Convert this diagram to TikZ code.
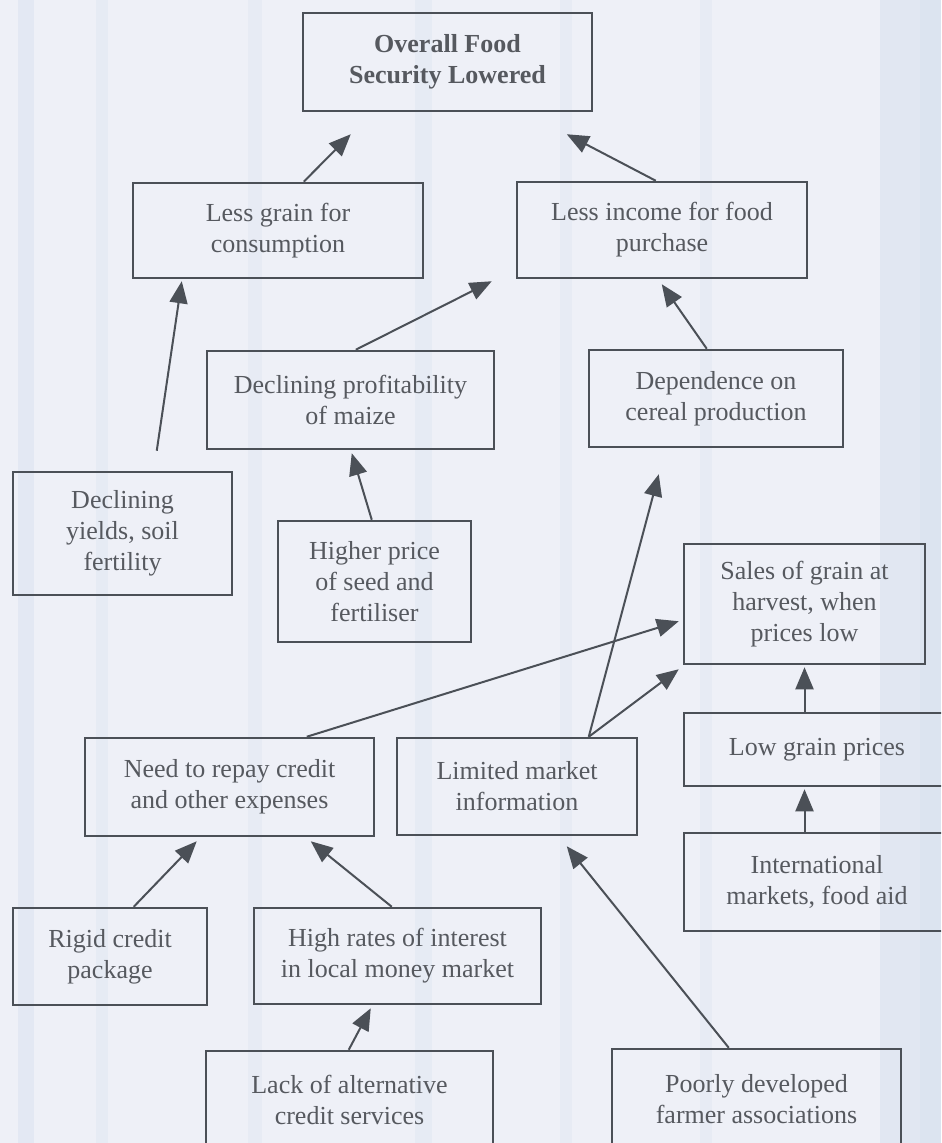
\documentclass[tikz,border=0pt]{standalone}
\usepackage{fontspec}
\setmainfont{Liberation Serif}
\usetikzlibrary{arrows.meta,calc}
\definecolor{ink}{HTML}{4B5057}
\definecolor{txt}{HTML}{56595F}
\definecolor{paper}{HTML}{EEF0F7}
\definecolor{streak}{HTML}{D9E2F0}

\begin{document}
\begin{tikzpicture}[x=0.5pt,y=-0.5pt,
  box/.style={draw=ink, line width=1.25pt, align=center, inner sep=0pt, text=txt,
    font=\fontsize{13}{15.5}\selectfont},
  sz/.style 2 args={minimum width=#1*0.5pt, minimum height=#2*0.5pt},
  link/.style={draw=ink, line width=1pt, -{Triangle[length=11pt,width=9pt]}},
]
% page and paper tint
\useasboundingbox (0,0) rectangle (941,1143);
\fill[paper] (0,0) rectangle (941,1143);
\foreach \a/\b/\o in {18/34/0.5, 96/108/0.35, 248/262/0.3, 415/432/0.35, 560/572/0.3, 700/712/0.3, 880/941/0.6, 920/941/0.5}
  \fill[streak, opacity=\o] (\a,0) rectangle (\b,1143);
\clip (0,0) rectangle (941,1143);

% boxes
\node[box, sz={289}{98}, font=\fontsize{13}{15.5}\selectfont\bfseries] (overall) at (447.5,62) {Overall Food\\Security Lowered};
\node[box, sz={290}{95}] (grain) at (278,230.5) {Less grain for\\consumption};
\node[box, sz={290}{96}] (income) at (662,230) {Less income for food\\purchase};
\node[box, sz={287}{98}] (profit) at (350.5,400) {Declining profitability\\of maize};
\node[box, sz={254}{97}] (cereal) at (716,398.5) {Dependence on\\cereal production};
\node[box, sz={219}{123}] (yields) at (122.5,533.5) {Declining\\yields, soil\\fertility};
\node[box, sz={193}{121}] (seed) at (374.5,581.5) {Higher price\\of seed and\\fertiliser};
\node[box, sz={241}{120}] (sales) at (804.5,604) {Sales of grain at\\harvest, when\\prices low};
\node[box, sz={266}{73}] (lowprice) at (817,749.5) {Low grain prices};
\node[box, sz={289}{98}] (repay) at (229.5,787) {Need to repay credit\\and other expenses};
\node[box, sz={240}{97}] (market) at (517,786.5) {Limited market\\information};
\node[box, sz={266}{98}] (intl) at (817,882) {International\\markets, food aid};
\node[box, sz={194}{97}] (rigid) at (110,956.5) {Rigid credit\\package};
\node[box, sz={287}{96}] (interest) at (397.5,956) {High rates of interest\\in local money market};
\node[box, sz={287}{98}] (lack) at (349.5,1100) {Lack of alternative\\credit services};
\node[box, sz={289}{100}] (assoc) at (756.5,1099) {Poorly developed\\farmer associations};

% causal links
\draw[link] ($(grain.north west)+(172,0)$) -- ($(overall.south west)+(49,22)$);
\draw[link] ($(income.north west)+(140,0)$) -- ($(overall.south west)+(265,22)$);
\draw[link] ($(yields.north west)+(145,-20)$) -- ($(grain.south west)+(50,2)$);
\draw[link] ($(profit.north west)+(150,0)$) -- ($(income.south west)+(-24,2)$);
\draw[link] ($(cereal.north west)+(119,0)$) -- ($(income.south west)+(146,5)$);
\draw[link] ($(seed.north west)+(95,0)$) -- ($(profit.south west)+(146,3)$);
\draw[link] ($(market.north west)+(193,0)$) -- ($(cereal.south west)+(71,26)$);
\draw[link] ($(repay.north west)+(223,0)$) -- ($(sales.south west)+(-4,-44)$);
\draw[link] ($(market.north west)+(193,0)$) -- ($(sales.south west)+(-4,4)$);
\draw[link] (lowprice.north -| sales.south) -- ($(sales.south)+(0,2)$);
\draw[link] (intl.north -| sales.south) -- ($(lowprice.south -| sales.south)+(0,2)$);
\draw[link] ($(rigid.north west)+(122,0)$) -- ($(repay.south west)+(113,4)$);
\draw[link] ($(interest.north west)+(139,0)$) -- ($(repay.south west)+(227,4)$);
\draw[link] ($(lack.north west)+(144,0)$) -- ($(interest.south west)+(118,3)$);
\draw[link] ($(assoc.north west)+(118,0)$) -- ($(market.south west)+(171,10)$);
\end{tikzpicture}
\end{document}
